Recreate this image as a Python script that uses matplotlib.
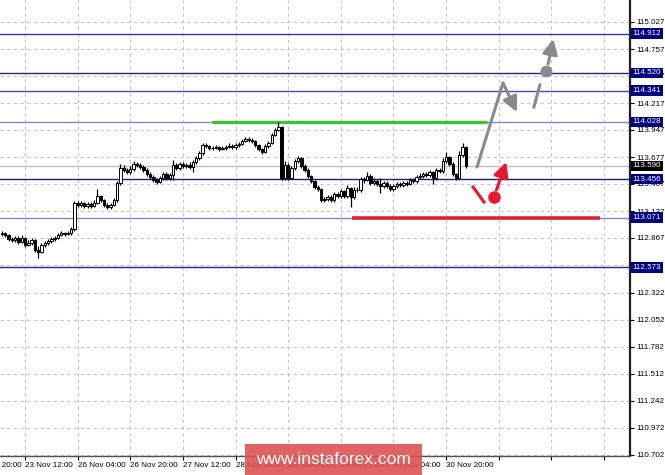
import matplotlib
matplotlib.use("Agg")
import matplotlib.pyplot as plt
from matplotlib.patches import Rectangle

# hourly closes (bar 0 = 22 Nov ~21:00)
closes = [
    112.917, 112.897, 112.857, 112.847, 112.867, 112.827, 112.867, 112.797, 112.817, 112.847,
    112.747, 112.727, 112.797, 112.817, 112.837, 112.857, 112.867, 112.897, 112.917, 112.907,
    112.917, 112.957, 113.217, 113.197, 113.217, 113.187, 113.207, 113.187, 113.217, 113.287,
    113.247, 113.197, 113.177, 113.197, 113.247, 113.417, 113.567, 113.547, 113.527, 113.557,
    113.607, 113.597, 113.577, 113.547, 113.507, 113.477, 113.447, 113.427, 113.467, 113.507,
    113.467, 113.497, 113.597, 113.567, 113.607, 113.587, 113.597, 113.577, 113.627, 113.667,
    113.717, 113.797, 113.787, 113.767, 113.767, 113.777, 113.757, 113.767, 113.777, 113.787,
    113.777, 113.797, 113.807, 113.837, 113.857, 113.847, 113.837, 113.797, 113.757, 113.727,
    113.787, 113.817, 113.897, 113.947, 113.977, 113.467, 113.597, 113.467, 113.567, 113.637,
    113.667, 113.587, 113.547, 113.487, 113.437, 113.377, 113.357, 113.247, 113.257, 113.277,
    113.247, 113.307, 113.287, 113.337, 113.287, 113.367, 113.277, 113.347, 113.347, 113.457,
    113.447, 113.487, 113.417, 113.437, 113.407, 113.387, 113.417, 113.387, 113.357, 113.387,
    113.407, 113.397, 113.417, 113.407, 113.447, 113.437, 113.477, 113.487, 113.507, 113.497,
    113.527, 113.467, 113.547, 113.537, 113.637, 113.677, 113.607, 113.507, 113.467, 113.697,
    113.777, 113.590,
]
highs = [
    112.937, 112.927, 112.907, 112.877, 112.887, 112.887, 112.897, 112.877, 112.847, 112.867,
    112.857, 112.787, 112.817, 112.837, 112.857, 112.877, 112.887, 112.917, 112.937, 112.927,
    112.937, 112.977, 113.237, 113.237, 113.237, 113.227, 113.227, 113.227, 113.247, 113.357,
    113.297, 113.257, 113.217, 113.217, 113.267, 113.437, 113.607, 113.597, 113.567, 113.587,
    113.637, 113.627, 113.617, 113.597, 113.567, 113.527, 113.497, 113.467, 113.487, 113.527,
    113.527, 113.517, 113.647, 113.617, 113.627, 113.627, 113.617, 113.627, 113.647, 113.687,
    113.737, 113.817, 113.817, 113.797, 113.787, 113.797, 113.787, 113.787, 113.797, 113.817,
    113.807, 113.817, 113.827, 113.857, 113.877, 113.877, 113.867, 113.847, 113.807, 113.767,
    113.807, 113.837, 113.917, 113.967, 114.027, 113.987, 113.637, 113.617, 113.587, 113.657,
    113.687, 113.677, 113.607, 113.567, 113.497, 113.447, 113.397, 113.367, 113.277, 113.297,
    113.297, 113.327, 113.327, 113.357, 113.347, 113.397, 113.377, 113.377, 113.377, 113.477,
    113.477, 113.527, 113.507, 113.467, 113.457, 113.467, 113.437, 113.437, 113.407, 113.407,
    113.427, 113.427, 113.437, 113.437, 113.467, 113.467, 113.497, 113.517, 113.527, 113.527,
    113.547, 113.537, 113.567, 113.567, 113.667, 113.727, 113.687, 113.627, 113.517, 113.737,
    113.817, 113.787,
]
lows = [
    112.887, 112.877, 112.837, 112.827, 112.827, 112.807, 112.817, 112.777, 112.787, 112.797,
    112.727, 112.667, 112.717, 112.777, 112.797, 112.817, 112.837, 112.857, 112.887, 112.887,
    112.897, 112.897, 112.937, 113.177, 113.177, 113.167, 113.167, 113.167, 113.177, 113.207,
    113.227, 113.177, 113.157, 113.157, 113.187, 113.227, 113.397, 113.527, 113.507, 113.507,
    113.537, 113.577, 113.557, 113.527, 113.487, 113.457, 113.427, 113.407, 113.417, 113.447,
    113.447, 113.447, 113.447, 113.547, 113.547, 113.567, 113.567, 113.557, 113.527, 113.607,
    113.647, 113.697, 113.767, 113.747, 113.747, 113.757, 113.737, 113.747, 113.747, 113.767,
    113.757, 113.757, 113.777, 113.797, 113.827, 113.827, 113.817, 113.777, 113.737, 113.707,
    113.717, 113.767, 113.807, 113.887, 113.937, 113.447, 113.447, 113.447, 113.457, 113.547,
    113.617, 113.567, 113.527, 113.467, 113.417, 113.357, 113.337, 113.227, 113.227, 113.237,
    113.227, 113.227, 113.267, 113.267, 113.267, 113.267, 113.177, 113.257, 113.327, 113.327,
    113.417, 113.437, 113.397, 113.397, 113.387, 113.317, 113.367, 113.367, 113.337, 113.337,
    113.367, 113.377, 113.377, 113.387, 113.397, 113.417, 113.417, 113.457, 113.467, 113.477,
    113.477, 113.407, 113.447, 113.517, 113.517, 113.617, 113.587, 113.487, 113.447, 113.457,
    113.677, 113.567,
]
first_open = 112.907
opens = [first_open] + closes[:-1]

# price scale (112.597 sits under the 112.573 box and is not shown)
tick_prices = [115.027, 114.757, 114.487, 114.217, 113.947, 113.677, 113.407, 113.137,
               112.867, 112.597, 112.322, 112.052, 111.782, 111.512, 111.242, 110.972, 110.702]
tick_labels = ["115.027", "114.757", "114.487", "114.217", "113.947", "113.677", "113.407",
               "113.137", "112.867", "", "112.322", "112.052", "111.782", "111.512",
               "111.242", "110.972", "110.702"]
level_prices = [114.912, 114.520, 114.341, 114.028, 113.456, 113.071, 112.573]
level_colors = ["#3a3a9c", "#25258c", "#4c4ca8", "#8585cc", "#1c1c80", "#8585cc", "#25258c"]
last_price = 113.590

# time scale (bar index of each label)
time_ticks = [7, 23, 39, 55, 71, 87, 103, 119, 135]
time_labels = ["23 Nov 12:00", "26 Nov 04:00", "26 Nov 20:00", "27 Nov 12:00",
               "28 Nov 04:00", "28 Nov 20:00", "29 Nov 12:00", "30 Nov 04:00", "30 Nov 20:00"]
first_tick, first_label = -9, "22 Nov 20:00"
empty_ticks = [151, 167, 183]

# drawn levels and forecast marks (bar index, price)
green_x, green_y = [63.8, 147.4], 114.03
red_x, red_y = [106.4, 181.8], 113.071
gray_path_x = [144.4, 152.3, 156.5]
gray_path_y = [113.577, 114.417, 114.127]
gray_dash_x = [161.7, 163.5]
gray_dash_y = [114.177, 114.397]
gray_dot = (165.3, 114.537)
gray_arrow = [(166.0, 114.607), (167.6, 114.857)]
red_dash_x = [143.2, 146.5]
red_dash_y = [113.377, 113.227]
red_dot = (149.5, 113.277)
red_arrow = [(150.3, 113.347), (153.3, 113.627)]

W, H = 665, 475
fig = plt.figure(figsize=(W / 100, H / 100), dpi=100)
ax = fig.add_axes([0, 19 / H, 630 / W, 456 / H])
ax.set_xlim(-0.61, 190.9)
ax.set_ylim(110.687, 115.247)

lab_font = {"family": "Liberation Sans", "size": 5.8}

# grid and scales
ax.set_yticks(tick_prices)
ax.set_yticklabels(tick_labels, fontdict=lab_font)
ax.yaxis.tick_right()
ax.set_xticks(time_ticks + empty_ticks)
ax.set_xticklabels(time_labels + [""] * len(empty_ticks), fontdict=lab_font, ha="left")
ax.tick_params(axis="y", length=3, width=0.8, pad=1.5, colors="black")
ax.tick_params(axis="x", length=3, width=0.8, pad=1.5, colors="black")
ax.grid(True, color="#c4c4c4", linestyle=(0, (3, 3)), linewidth=0.8)
ax.set_axisbelow(True)
for s in ["top", "left"]:
    ax.spines[s].set_visible(False)
ax.spines["right"].set_color("#202020")
ax.spines["right"].set_linewidth(1.6)
ax.spines["bottom"].set_color("#505050")
ax.spines["bottom"].set_linewidth(1.0)

ax.text(first_tick + 0.4, -0.013, first_label, transform=ax.get_xaxis_transform(),
        ha="left", va="top", clip_on=False, fontfamily="Liberation Sans", fontsize=5.8)

# levels
ax.axhline(last_price, color="#c0c0c0", linewidth=1.0, zorder=1)
for p, c in zip(level_prices, level_colors):
    ax.axhline(p, color=c, linewidth=1.0, zorder=1.2)
ax.plot(green_x, [green_y, green_y], color="#3cc03c", linewidth=2.4, zorder=1.4,
        solid_capstyle="butt")
ax.plot(red_x, [red_y, red_y], color="#e0203a", linewidth=2.6, zorder=1.4,
        solid_capstyle="butt")

# candles
xs = list(range(len(closes)))
ax.vlines(xs, lows, highs, color="black", linewidth=0.9, zorder=3)
for x, o, c in zip(xs, opens, closes):
    up = c >= o
    ax.bar(x, c - o if c != o else 0.0005, bottom=o, width=0.72,
           color="white" if up else "black", edgecolor="black", linewidth=0.7, zorder=3.5)

# forecast marks
gray = "#8a8a8a"
red = "#e8182e"
head = "-|>,head_length=0.9,head_width=0.45"
ax.plot(gray_path_x[:2], gray_path_y[:2], color=gray, linewidth=2.2, zorder=4,
        solid_capstyle="round")
ax.annotate("", xy=(gray_path_x[2], gray_path_y[2]), xytext=(gray_path_x[1], gray_path_y[1]),
            arrowprops=dict(arrowstyle=head, color=gray, lw=2.2, shrinkA=0, shrinkB=0), zorder=4)
ax.plot(gray_dash_x, gray_dash_y, color=gray, linewidth=2.2, zorder=4)
ax.plot(*gray_dot, "o", color=gray, markersize=7.5, zorder=4)
ax.annotate("", xy=gray_arrow[1], xytext=gray_arrow[0],
            arrowprops=dict(arrowstyle=head, color=gray, lw=2.2, shrinkA=0, shrinkB=0), zorder=4)
ax.plot(red_dash_x, red_dash_y, color=red, linewidth=2.2, zorder=4)
ax.plot(*red_dot, "o", color=red, markersize=8, zorder=4)
ax.annotate("", xy=red_arrow[1], xytext=red_arrow[0],
            arrowprops=dict(arrowstyle=head, color=red, lw=2.2, shrinkA=0, shrinkB=0), zorder=4)

# highlighted price labels
ytr = ax.get_yaxis_transform()
for p in level_prices:
    ax.text(1.0045, p, f"{p:.3f}", transform=ytr, ha="left", va="center", color="white",
            fontfamily="Liberation Sans", fontsize=5.8, clip_on=False, zorder=6,
            bbox=dict(boxstyle="square,pad=0.2", fc="#000080", ec="none"))
ax.text(1.0045, last_price, f"{last_price:.3f}", transform=ytr, ha="left", va="center",
        color="white", fontfamily="Liberation Sans", fontsize=5.8, clip_on=False, zorder=6,
        bbox=dict(boxstyle="square,pad=0.2", fc="black", ec="none"))

# watermark
fig.add_artist(Rectangle((245 / W, 0), 177 / W, 31 / H, transform=fig.transFigure,
                         facecolor="#dc4f4f", alpha=0.88, edgecolor="none", zorder=10))
fig.text(333.5 / W, 15 / H, "www.instaforex.com", color="white", ha="center", va="center",
         fontfamily="Liberation Sans", fontsize=12.5, zorder=11)

fig.savefig("out.png", dpi=100)
